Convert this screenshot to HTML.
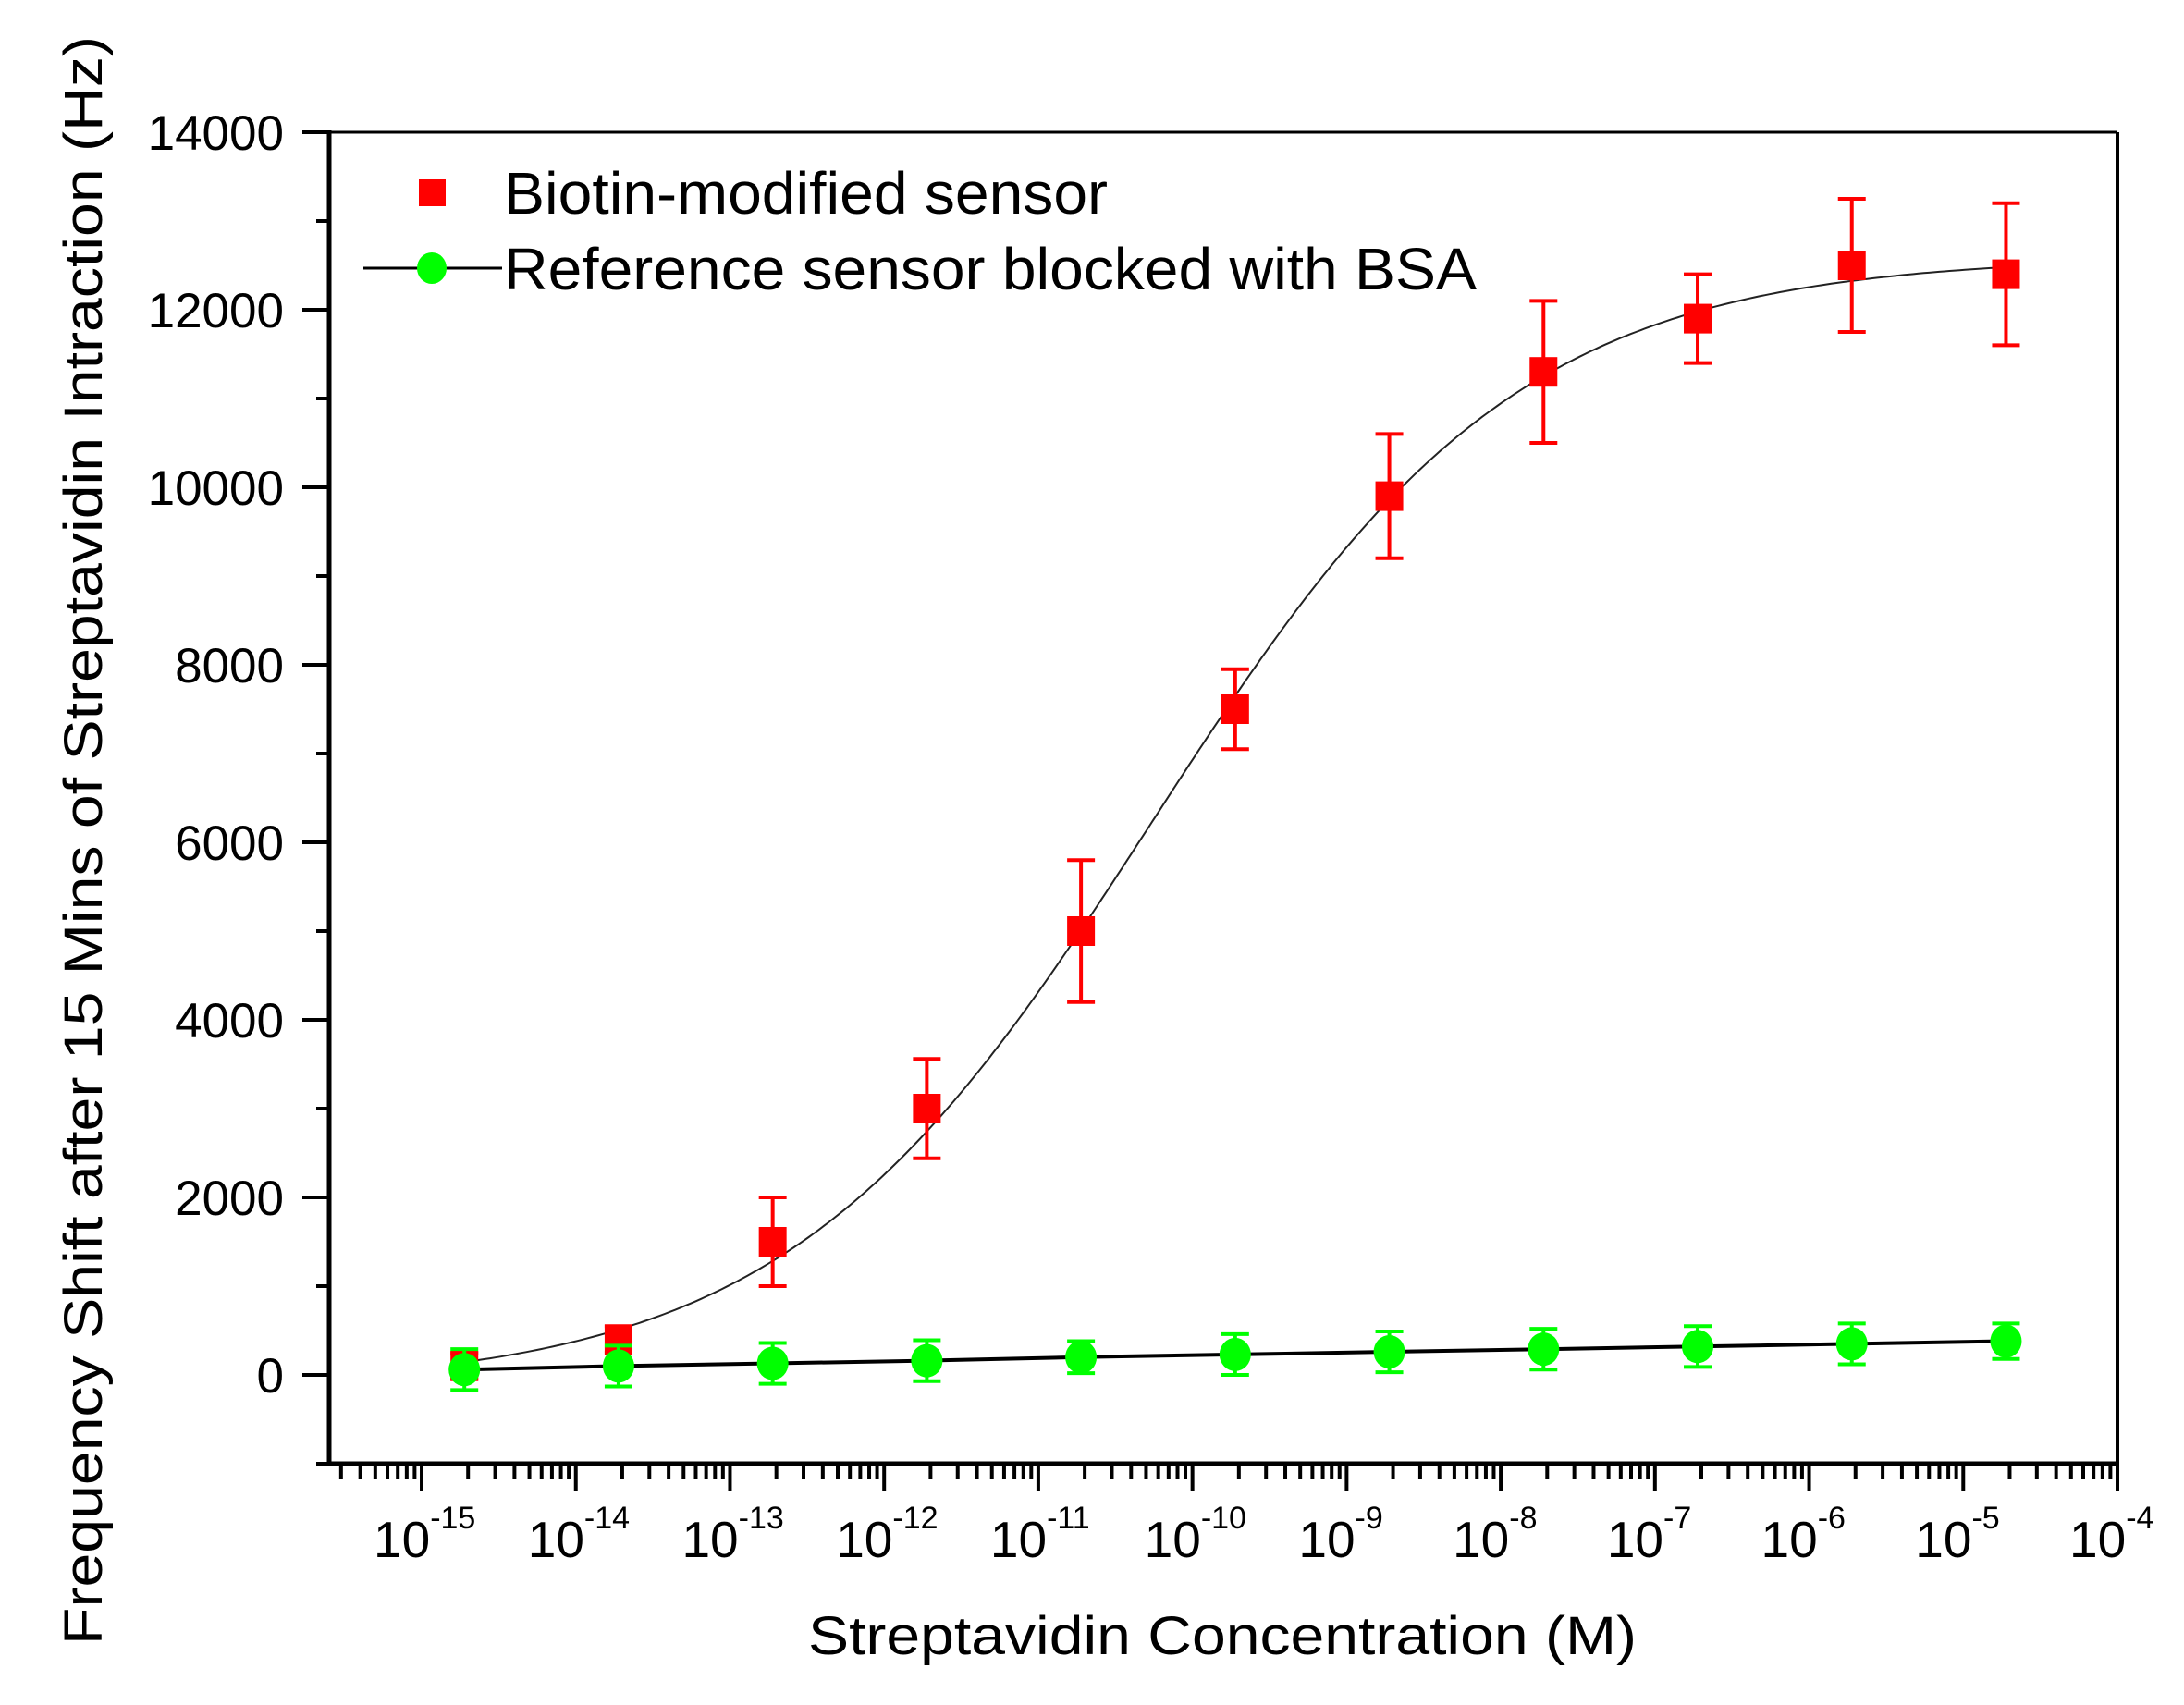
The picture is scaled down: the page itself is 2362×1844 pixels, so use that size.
<!DOCTYPE html>
<html><head><meta charset="utf-8"><style>
html,body{margin:0;padding:0;background:#fff}
svg{display:block}
text{font-family:"Liberation Sans",Arial,sans-serif;fill:#000}
</style></head><body>
<svg id="chart" width="2362" height="1844" viewBox="0 0 2362 1844" xmlns="http://www.w3.org/2000/svg">
<rect x="0" y="0" width="2362" height="1844" fill="#fff"/>
<g id="plot"></g>
<text transform="translate(110,909) rotate(-90)" text-anchor="middle" font-size="58" textLength="1740" lengthAdjust="spacingAndGlyphs">Frequency Shift after 15 Mins of Streptavidin Intraction (Hz)</text>
<text x="874" y="1789" font-size="58" textLength="896" lengthAdjust="spacingAndGlyphs">Streptavidin Concentration (M)</text>
<g>
<rect x="453" y="194" width="29" height="29" fill="#f00"/>
<text x="545" y="231" font-size="64" textLength="653" lengthAdjust="spacingAndGlyphs">Biotin-modified sensor</text>
<line x1="393" y1="290" x2="543" y2="290" stroke="#000" stroke-width="3"/>
<ellipse cx="467" cy="290" rx="16" ry="17" fill="#0f0"/>
<text x="545" y="313" font-size="64" textLength="1052" lengthAdjust="spacingAndGlyphs">Reference sensor blocked with BSA</text>
</g>
</svg>
<script>
const concentrations = [2e-15, 2e-14, 2e-13, 2e-12, 2e-11, 2e-10, 2e-9, 2e-8, 2e-7, 2e-6, 2e-5];
const biotinValues = [100, 400, 1500, 3000, 5000, 7500, 9900, 11300, 11900, 12500, 12400];
const biotinErrors = [150, 150, 500, 560, 800, 450, 700, 800, 500, 750, 800];
const referenceValues = [60, 100, 130, 160, 200, 230, 260, 290, 320, 350, 380];
const referenceErrors = [230, 230, 230, 230, 180, 230, 230, 230, 230, 230, 200];
const fitParams = [-150, 12600, -10.24, 1.19]; // A1, A2, x0 (log10), dx
const yTicks = [0, 2000, 4000, 6000, 8000, 10000, 12000, 14000];
const xTickExps = [-15, -14, -13, -12, -11, -10, -9, -8, -7, -6, -5, -4];

const NS = "http://www.w3.org/2000/svg";
const L = 356, R = 2290, T = 143, B = 1583;
const xMinLog = -15 - (456 - L) / 166.7, xMaxLog = -4;
const yMin = -1000, yMax = 14000;
function xs(v){ return L + (Math.log10(v) - xMinLog) / (xMaxLog - xMinLog) * (R - L) - 4; }
function xl(lg){ return L + (lg - xMinLog) / (xMaxLog - xMinLog) * (R - L); }
function ys(v){ return B - (v - yMin) / (yMax - yMin) * (B - T); }
const plot = document.getElementById('plot');
function mk(tag, attrs, parent){
  const e = document.createElementNS(NS, tag);
  for (const k in attrs) e.setAttribute(k, attrs[k]);
  (parent || plot).appendChild(e);
  return e;
}

let e = mk('line', {x1:L, y1:T, x2:R, y2:T, stroke:'#000', 'stroke-width':3});


e = mk('line', {x1:R, y1:T, x2:R, y2:B, stroke:'#000', 'stroke-width':4});


e = mk('line', {x1:L, y1:T-2, x2:L, y2:B+2, stroke:'#000', 'stroke-width':5});


e = mk('line', {x1:L-2, y1:B, x2:R+2, y2:B, stroke:'#000', 'stroke-width':5});



for (let v = yMin; v <= yMax; v += 1000) {
  const major = yTicks.indexOf(v) >= 0;
  e = mk('line', {x1:L - (major ? 29 : 14), y1:ys(v), x2:L, y2:ys(v), stroke:'#000', 'stroke-width':4});
  
  
}
yTicks.forEach(v => {
  const t = mk('text', {x:307, y:ys(v) + 19, 'font-size':53, 'text-anchor':'end'});
  t.textContent = String(v);
  
  
});
xTickExps.forEach((ex, i) => {
  e = mk('line', {x1:xl(ex), y1:B, x2:xl(ex), y2:B+30, stroke:'#000', 'stroke-width':4});
  
  
  if (i < xTickExps.length - 1) {
    for (let m = 2; m <= 9; m++) {
      const lx = xl(ex + Math.log10(m));
      e = mk('line', {x1:lx, y1:B, x2:lx, y2:B+17, stroke:'#000', 'stroke-width':4});
      
      
    }
  }
  const t = mk('text', {x:xl(ex) - 52, y:1684, 'font-size':55});
  
  
  const b = document.createElementNS(NS, 'tspan'); b.textContent = '10'; t.appendChild(b);
  const s = document.createElementNS(NS, 'tspan');
  s.setAttribute('font-size', '34'); s.setAttribute('dy', '-31');
  s.textContent = String(ex); t.appendChild(s);
});
for (let m = 3; m <= 9; m++) {
  const lg = -16 + Math.log10(m);
  if (lg > xMinLog) {
    e = mk('line', {x1:xl(lg), y1:B, x2:xl(lg), y2:B+17, stroke:'#000', 'stroke-width':4});
    
    
  }
}

let pts = concentrations.map((c, i) => xs(c).toFixed(1) + ',' + ys(referenceValues[i]).toFixed(1)).join(' ');
e = mk('polyline', {points:pts, fill:'none', stroke:'#000', 'stroke-width':4});



const lg0 = Math.log10(concentrations[0]), lg1 = Math.log10(concentrations[concentrations.length-1]);
let d = '';
for (let k = 0; k <= 300; k++) {
  const lg = lg0 + (lg1 - lg0) * k / 300;
  const y = fitParams[1] + (fitParams[0] - fitParams[1]) / (1 + Math.exp((lg - fitParams[2]) / fitParams[3]));
  d += (k ? 'L' : 'M') + (xl(lg) - 4).toFixed(1) + ',' + ys(y).toFixed(1);
}
e = mk('path', {d:d, fill:'none', stroke:'#222', 'stroke-width':2});



function errBar(x, v, err, color, name){
  const g = mk('g', {stroke:color, 'stroke-width':4});
  
  
  mk('line', {x1:x, y1:ys(v+err), x2:x, y2:ys(v-err)}, g);
  mk('line', {x1:x-15, y1:ys(v+err), x2:x+15, y2:ys(v+err)}, g);
  mk('line', {x1:x-15, y1:ys(v-err), x2:x+15, y2:ys(v-err)}, g);
}
concentrations.forEach((c, i) => {
  const x = xs(c);
  errBar(x, biotinValues[i], biotinErrors[i], '#f00', 'biotin-error-bar');
  const r = mk('rect', {x:x-15, y:ys(biotinValues[i])-16, width:30, height:32, fill:'#f00'});
  
  
});
concentrations.forEach((c, i) => {
  const x = xs(c);
  errBar(x, referenceValues[i], referenceErrors[i], '#0f0', 'reference-error-bar');
  const r = mk('ellipse', {cx:x, cy:ys(referenceValues[i]), rx:17, ry:18, fill:'#0f0'});
  
  
});
</script>
</body></html>
